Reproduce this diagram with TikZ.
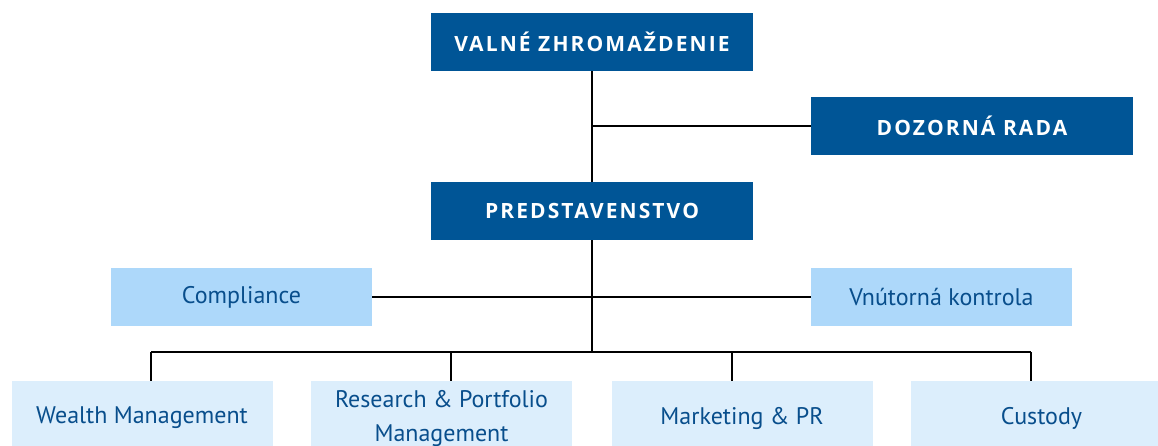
\documentclass[tikz,border=0pt]{standalone}
\usepackage{fontspec}
\setmainfont{Open Sans}
\newfontfamily\unitfont{PT Sans}
\newfontfamily\boardfont[LetterSpace=10]{Open Sans}
\usepackage{tikz}
\definecolor{boarddark}{RGB}{0,85,150}
\definecolor{stafflight}{RGB}{173,216,250}
\definecolor{unitpale}{RGB}{220,238,252}
\definecolor{unittext}{RGB}{8,78,140}
\tikzset{
  board/.style={fill=boarddark, text=white, inner sep=0pt, minimum width=322pt, minimum height=58pt, font=\boardfont\bfseries\fontsize{21}{25}\selectfont},
  staff/.style={fill=stafflight, text=unittext, inner sep=0pt, minimum width=261pt, minimum height=58pt, font=\unitfont\fontsize{24}{28}\selectfont},
  unit/.style={fill=unitpale, text=unittext, inner sep=0pt, minimum width=261pt, minimum height=74pt, align=center, font=\unitfont\fontsize{24}{34}\selectfont},
  link/.style={line width=2.5pt, black}
}
\begin{document}
\begin{tikzpicture}[x=1pt,y=1pt,yscale=-1,xscale=1]
\useasboundingbox (0,0) rectangle (1158,446);
\clip (0,0) rectangle (1158,446);

%Boxes: top
\node [board] (valne) at (592,42) {VALNÉ ZHROMAŽDENIE};
\node [board] (dozorna) at (972,126) {DOZORNÁ RADA};
\node [board] (pred) at (592,211) {PREDSTAVENSTVO};
%Boxes: staff
\node [staff] (compl) at (241.5,297) {Compliance};
\node [staff] (vnut) at (941.5,297) {Vnútorná kontrola};
%Boxes: units
\node [unit] (wealth) at (142,418) {Wealth Management};
\node [unit] (research) at (441.5,418) {Research \& Portfolio\\Management};
\node [unit] (market) at (742,418) {Marketing \& PR};
\node [unit] (custody) at (1041.5,418) {Custody};

%Junctions
\coordinate (dj) at (592,126);
\coordinate (bus) at (592,352);
\coordinate (t1) at (151,352);
\coordinate (t2) at (451,352);
\coordinate (t3) at (732,352);
\coordinate (t4) at (1031,352);

%Straight Lines
\draw [link] (valne.south) -- (pred.north);
\draw [link] (dj) -- (dozorna.west);
\draw [link] (pred.south) -- (bus);
\draw [link] (compl.east) -- (vnut.west);
\draw [link] (t1) -- (t4);
\draw [link] (t1) -- (t1 |- wealth.north);
\draw [link] (t2) -- (t2 |- research.north);
\draw [link] (t3) -- (t3 |- market.north);
\draw [link] (t4) -- (t4 |- custody.north);

\end{tikzpicture}
\end{document}
